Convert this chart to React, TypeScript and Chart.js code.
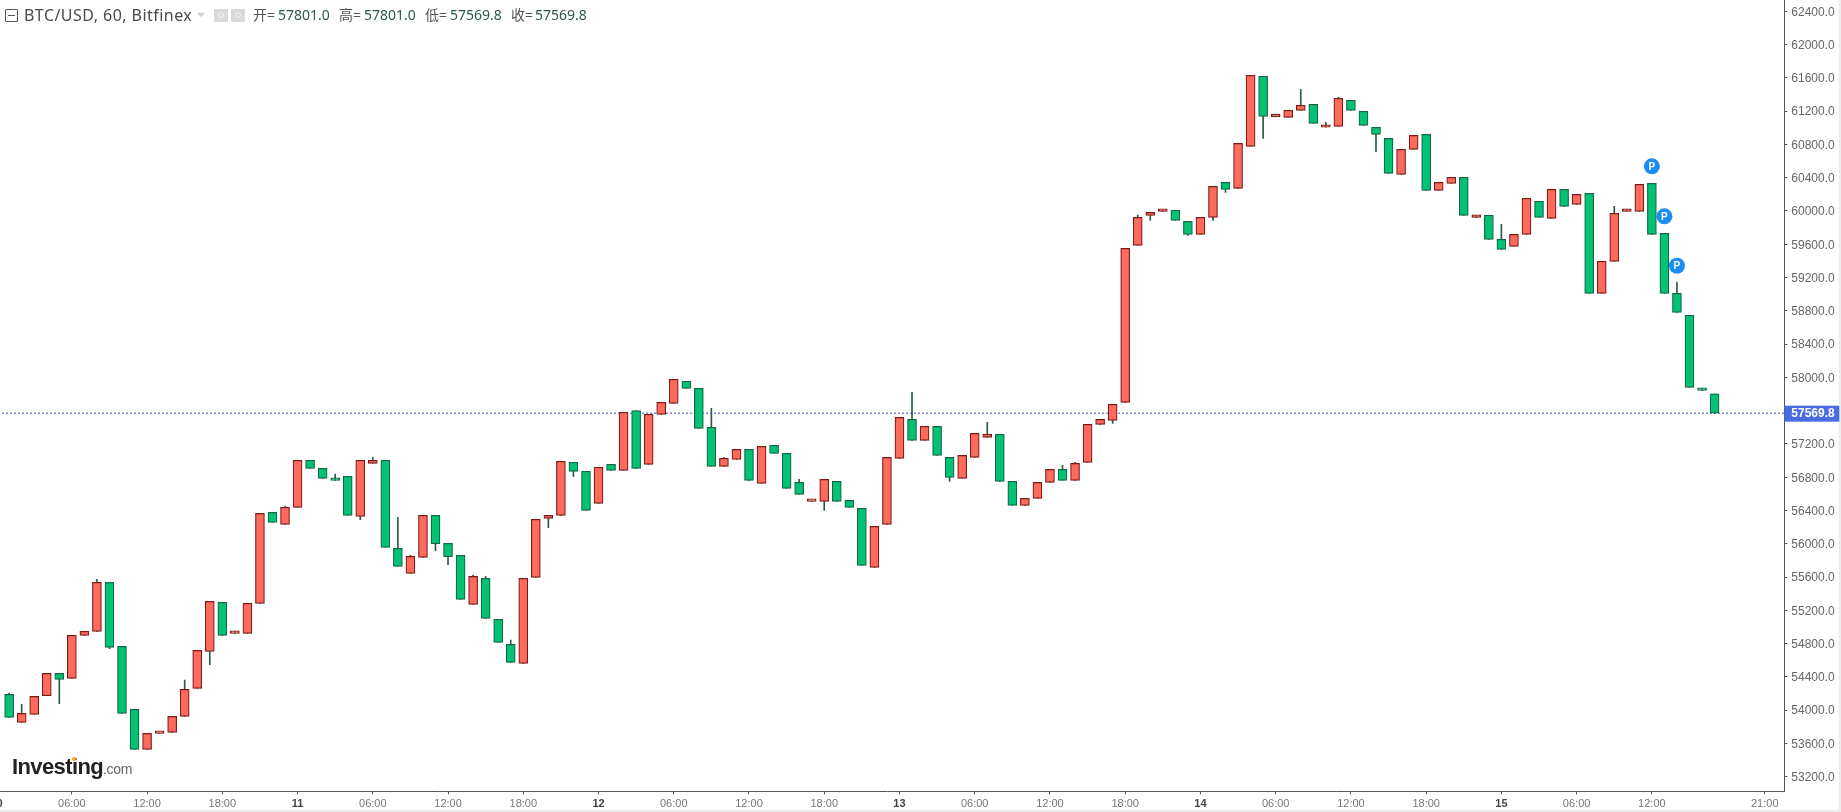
import React, { useEffect, useRef } from "react";
import { Chart, registerables } from "chart.js";

Chart.register(...registerables);

const opens = [54190,53853,53949,54174,54442,54382,54899,54947,55536,54767,54009,53529,53721,53733,53925,54262,54707,55296,54923,54923,55284,56377,56233,56438,57003,56906,56786,56810,56329,56967,57003,55945,55645,55837,56342,56005,55861,55272,55584,55092,54791,54563,55596,56306,56342,56979,56871,56486,56955,56883,57600,56955,57556,57688,57953,57868,57400,56931,57015,57135,56726,57183,57087,56738,56510,56509,56750,56521,56425,55716,56233,57026,57495,57243,57411,57038,56786,57038,57279,57315,56750,56461,56545,56738,56894,56762,56978,57435,57483,57700,59587,59947,59996,60008,59875,59719,59923,60344,60272,60777,61619,61134,61126,61210,61282,61006,61018,61330,61198,61006,60873,60441,60741,60921,60248,60332,60405,59924,59948,59659,59575,59719,60116,59912,60260,60080,60212,59010,59395,59996,59996,60332,59731,59010,58746,57868,57801];
const highs = [54206,54069,54166,54442,54442,54899,54947,55572,55536,54767,54009,53721,53729,53925,54362,54719,55308,55296,54947,55284,56365,56377,56454,57003,57003,56906,56838,56810,57003,57039,57003,56317,55861,56342,56342,56005,55861,55625,55608,55092,54843,55584,56294,56342,56991,56979,56871,56919,56955,57580,57600,57556,57700,57977,57953,57868,57628,57039,57135,57135,57171,57183,57087,56774,56518,56774,56750,56521,56425,56209,57038,57519,57820,57411,57411,57038,57062,57327,57459,57315,56750,56545,56738,56894,56942,56978,57435,57495,57676,59551,59951,59984,60008,60008,59875,59923,60296,60344,60813,61631,61619,61141,61210,61462,61282,61066,61366,61330,61198,61006,60873,60741,60909,60921,60344,60405,60405,59948,59948,59840,59719,60152,60116,60260,60260,60200,60212,59395,60056,60020,60320,60332,59731,59142,58746,57868,57801];
const lows = [53913,53853,53949,54174,54077,54382,54899,54947,54739,53961,53529,53529,53721,53733,53925,54262,54546,54899,54923,54923,55284,56257,56233,56438,56906,56786,56762,56341,56289,56967,55957,55728,55645,55837,55917,55749,55332,55272,55104,54815,54575,54563,55596,56193,56342,56811,56402,56486,56883,56883,56907,56955,57556,57688,57868,57388,56931,56931,57015,56762,56726,57087,56666,56594,56510,56401,56509,56437,55740,55716,56233,57026,57243,57243,57062,56750,56786,57038,57279,56750,56461,56461,56545,56738,56762,56762,56978,57435,57447,57700,59587,59887,59996,59887,59707,59719,59887,60224,60272,60777,60873,61134,61126,61210,61054,61006,61018,61210,61030,60713,60453,60441,60741,60248,60248,60332,59948,59924,59659,59539,59575,59719,59924,59912,60056,60080,59010,59010,59395,59996,59996,59719,59010,58782,57880,57844,57569.8];
const closes = [53913,53961,54166,54442,54370,54899,54947,55536,54755,53961,53529,53721,53729,53925,54250,54719,55308,54899,54947,55284,56365,56257,56438,57003,56906,56786,56762,56341,57003,57003,55957,55728,55849,56342,56001,55845,55332,55608,55104,54815,54575,55584,56294,56342,56991,56871,56402,56919,56883,57580,56907,57556,57700,57977,57868,57388,56931,57027,57135,56762,57171,57087,56666,56594,56518,56774,56509,56437,55740,56209,57038,57519,57243,57411,57062,56798,57062,57327,57315,56750,56461,56545,56738,56894,56762,56966,57435,57495,57676,59551,59923,59984,60008,59887,59719,59923,60296,60260,60813,61631,61138,61141,61210,61270,61054,61018,61354,61210,61030,60921,60453,60741,60909,60248,60344,60405,59948,59948,59659,59539,59719,60152,59924,60260,60056,60200,59010,59395,59972,60020,60320,59719,59010,58782,57880,57844,57569.8];

const lastPrice = 57569.8;
const lastLabel = "57569.8";
const yTicks = [53200,53600,54000,54400,54800,55200,55600,56000,56400,56800,57200,58000,58400,58800,59200,59600,60000,60400,60800,61200,61600,62000,62400];
const xTickHours = [0,6,12,18,24,30,36,42,48,54,60,66,72,78,84,90,96,102,108,114,120,126,132,141];
const xTickLabels = ["10","06:00","12:00","18:00","11","06:00","12:00","18:00","12","06:00","12:00","18:00","13","06:00","12:00","18:00","14","06:00","12:00","18:00","15","06:00","12:00","21:00"];
const dayLabels = ["10","11","12","13","14","15"];
const badgeHours = [132,133,134];
const badgeValues = [60537,59936,59342];

const X_MIN = -0.526, X_MAX = 142.56, Y_MIN = 53025, Y_MAX = 62536;
const UP = "#fd6b5e", UP_EDGE = "#7d1a16", DOWN = "#04c274", DOWN_EDGE = "#12694a", WICK = "#2b5c48";
const GREY = "Liberation Sans";

const hours = opens.map((_, i) => i + 1);
const isUp = (i: number) => closes[i] >= opens[i];
const isDay = (ctx: any) => dayLabels.includes(xTickLabels[xTickHours.indexOf(ctx?.tick?.value)]);

const furniture = {
  id: "furniture",
  beforeDraw(chart: any) {
    const c = chart.ctx;
    c.save();
    c.fillStyle = "#ececec";
    c.fillRect(0, 0, chart.width, chart.height);
    c.fillStyle = "#ffffff";
    c.fillRect(0, 0, 1849, 810);
    c.restore();
  },
  afterDatasetsDraw(chart: any) {
    const c = chart.ctx;
    const xs = chart.scales.x, ys = chart.scales.y;
    c.save();
    c.fillStyle = "#fff";
    c.font = `bold 10px "${GREY}"`;
    c.textAlign = "center";
    c.textBaseline = "middle";
    badgeHours.forEach((h, i) => c.fillText("P", xs.getPixelForValue(h), ys.getPixelForValue(badgeValues[i]) + 0.5));
    c.restore();
  },
  afterDraw(chart: any) {
    const c = chart.ctx;
    const ys = chart.scales.y;
    const py = ys.getPixelForValue(lastPrice);
    c.save();
    c.fillStyle = "#4a6ce0";
    c.fillRect(chart.chartArea.right, py - 7.5, 55, 16);
    c.fillStyle = "#fff";
    c.font = `bold 12px "${GREY}"`;
    c.textAlign = "left";
    c.textBaseline = "middle";
    c.fillText(lastLabel, chart.chartArea.right + 7, py + 1);
    c.restore();
  },
};

const tag = (left: number, text: string, color: string): React.ReactElement => (
  <span key={left} style={{ position: "absolute", left, top: 4, color, whiteSpace: "nowrap", lineHeight: "22px" }}>{text}</span>
);

export default function App() {
  const ref = useRef<HTMLCanvasElement | null>(null);
  useEffect(() => {
    document.body.style.margin = "0";
    const chart = new Chart(ref.current as HTMLCanvasElement, {
      type: "bar",
      data: {
        datasets: [
          {
            type: "line",
            data: [{ x: X_MIN, y: lastPrice }, { x: X_MAX, y: lastPrice }],
            borderColor: "#3f4fc4",
            borderWidth: 1,
            borderDash: [2, 2],
            pointRadius: 0,
            order: 3,
          },
          {
            data: hours.map((h, i) => ({ x: h, y: [lows[i], highs[i]] })),
            backgroundColor: WICK,
            borderWidth: 0,
            barThickness: 1,
            grouped: false,
            order: 2,
          },
          {
            data: hours.map((h, i) => ({ x: h, y: [opens[i], closes[i]] })),
            backgroundColor: hours.map((_, i) => (isUp(i) ? UP : DOWN)),
            borderColor: hours.map((_, i) => (isUp(i) ? UP_EDGE : DOWN_EDGE)),
            borderWidth: 1.2,
            borderSkipped: false,
            barThickness: 9,
            minBarLength: 2.5,
            grouped: false,
            order: 1,
          },
          {
            type: "line",
            data: badgeHours.map((h, i) => ({ x: h, y: badgeValues[i] })),
            showLine: false,
            pointRadius: 8,
            pointBackgroundColor: "#1a8df2",
            pointBorderWidth: 0,
            order: 0,
          },
        ] as any,
      },
      options: {
        animation: false,
        responsive: false,
        devicePixelRatio: 1,
        layout: { padding: 0, autoPadding: false },
        plugins: { legend: { display: false }, tooltip: { enabled: false } },
        scales: {
          x: {
            type: "linear",
            offset: false,
            min: X_MIN,
            max: X_MAX,
            border: { color: "#555", width: 1 },
            grid: { offset: false, drawOnChartArea: false, tickLength: 3, color: "#555" },
            afterBuildTicks: (s: any) => { s.ticks = xTickHours.map((value) => ({ value })); },
            afterFit: (s: any) => { s.height = 20.7; s.paddingLeft = 0; s.paddingRight = 0; s.paddingTop = 0; s.paddingBottom = 0; },
            ticks: {
              autoSkip: false,
              maxRotation: 0,
              padding: 3,
              callback: (v: any) => xTickLabels[xTickHours.indexOf(Number(v))],
              color: (ctx: any) => (isDay(ctx) ? "#444" : "#777"),
              font: (ctx: any) => (isDay(ctx)
                ? { family: GREY, size: 11, weight: "bold" }
                : { family: GREY, size: 11, weight: "normal" }),
            },
          },
          y: {
            type: "linear",
            position: "right",
            min: Y_MIN,
            max: Y_MAX,
            border: { color: "#555", width: 1 },
            grid: { drawOnChartArea: false, tickLength: 3, color: "#555" },
            afterBuildTicks: (s: any) => { s.ticks = yTicks.map((value) => ({ value })); },
            afterFit: (s: any) => { s.width = 56.7; s.paddingTop = 0; s.paddingBottom = 0; s.paddingLeft = 0; s.paddingRight = 0; },
            ticks: {
              autoSkip: false,
              padding: 4,
              labelOffset: 1,
              color: "#666",
              font: { family: GREY, size: 12 },
              callback: (v: any) => Number(v).toFixed(1),
            },
          },
        },
      } as any,
      plugins: [furniture],
    });
    return () => chart.destroy();
  }, []);

  return (
    <div style={{ position: "absolute", left: 0, top: 0, width: 1841, height: 812, overflow: "hidden", background: "#fff" }}>
      <canvas ref={ref} width={1851} height={812} style={{ position: "absolute", left: -10, top: 0, width: 1851, height: 812 }} />
      <div style={{ position: "absolute", left: 0, top: 0, fontFamily: '"Noto Sans", "Noto Sans CJK SC", sans-serif', fontSize: 14 }}>
        <div style={{ position: "absolute", left: 5, top: 9, width: 11, height: 11, border: "1px solid #555", borderRadius: 1 }}>
          <div style={{ position: "absolute", left: 2, right: 2, top: 5, height: 1, background: "#555" }} />
        </div>
        <span style={{ position: "absolute", left: 24, top: 4, color: "#4a4a4a", whiteSpace: "nowrap", lineHeight: "22px", fontSize: 16, letterSpacing: 0.45 }}>BTC/USD, 60, Bitfinex</span>
        <div style={{ position: "absolute", left: 197, top: 13, width: 0, height: 0, borderLeft: "4px solid transparent", borderRight: "4px solid transparent", borderTop: "4px solid #ccc" }} />
        {[214, 231].map((l) => (
          <div key={l} style={{ position: "absolute", left: l, top: 9, width: 14, height: 13, background: "#d9d9d9" }}>
            <div style={{ position: "absolute", left: 4, top: 3, width: 6, height: 6, borderRadius: 3, border: "1px solid #f4f4f4", boxSizing: "border-box" }} />
          </div>
        ))}
        {tag(253, "开=", "#555")}
        {tag(278, "57801.0", "#2c5a48")}
        {tag(339, "高=", "#555")}
        {tag(364, "57801.0", "#2c5a48")}
        {tag(425, "低=", "#555")}
        {tag(450, "57569.8", "#2c5a48")}
        {tag(511, "收=", "#555")}
        {tag(535, "57569.8", "#2c5a48")}
      </div>
      <span style={{ position: "absolute", left: 12, top: 754, fontFamily: GREY, fontWeight: 700, fontSize: 22, letterSpacing: -0.6, color: "#222", lineHeight: "26px", whiteSpace: "nowrap" }}>Investing</span>
      <span style={{ position: "absolute", left: 103, top: 759, fontFamily: GREY, fontSize: 14, letterSpacing: -0.3, color: "#666", lineHeight: "20px", whiteSpace: "nowrap" }}>.com</span>
      <div style={{ position: "absolute", left: 72, top: 757, width: 4, height: 4, borderRadius: 2, background: "#f5a623" }} />
    </div>
  );
}
